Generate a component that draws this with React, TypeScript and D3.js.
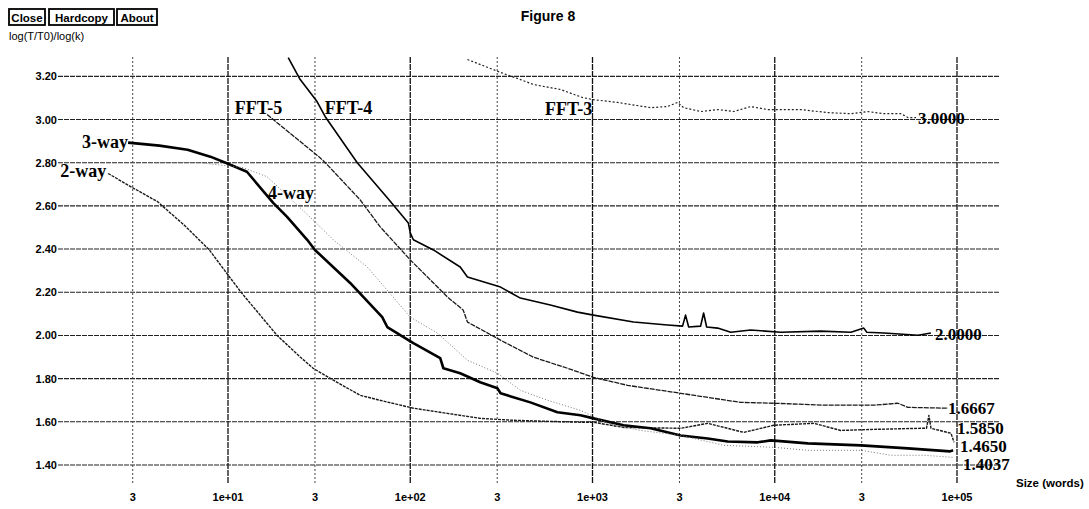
import React, { useRef, useEffect } from 'react'
import { select, scaleLog, scaleLinear, line, curveLinear } from 'd3'

// axis ticks
const yTicks = [1.4, 1.6, 1.8, 2.0, 2.2, 2.4, 2.6, 2.8, 3.0, 3.2]
const yTickLabels = ['1.40', '1.60', '1.80', '2.00', '2.20', '2.40', '2.60', '2.80', '3.00', '3.20']
const xTicks = [3, 10, 30, 100, 300, 1000, 3000, 10000, 30000, 100000]
const xTickLabels = ['3', '1e+01', '3', '1e+02', '3', '1e+03', '3', '1e+04', '3', '1e+05']

// series: [size in words, log(T/T0)/log(k)]
const twoWay: [number, number][] = [
  [2.2, 2.75], [3, 2.684], [4.1, 2.62], [5.8, 2.508], [7.9, 2.396], [10, 2.28], [11.9, 2.196],
  [18.6, 2.0], [24.9, 1.9], [29.3, 1.848], [39.7, 1.783], [53, 1.723], [68, 1.7], [104, 1.663],
  [160, 1.639], [242, 1.616], [368, 1.607], [860, 1.598], [1010, 1.598], [1480, 1.574],
  [3050, 1.57], [4290, 1.593], [6760, 1.551], [9880, 1.584], [16400, 1.593], [23000, 1.56],
  [35000, 1.565], [63400, 1.57], [68000, 1.57], [70100, 1.63], [72000, 1.57], [92700, 1.547],
  [96400, 1.505],
]
const threeWay: [number, number][] = [
  [2.83, 2.893], [4.2, 2.879], [6.0, 2.86], [8.0, 2.828], [10, 2.795], [12.7, 2.758],
  [17.7, 2.614], [21.1, 2.549], [27.2, 2.443], [30, 2.396], [46.8, 2.243], [70.2, 2.085],
  [74.8, 2.039], [104, 1.964], [146, 1.895], [152, 1.848], [188, 1.825], [242, 1.783],
  [301, 1.755], [313, 1.732], [456, 1.69], [642, 1.644], [859, 1.63], [1012, 1.616],
  [1479, 1.584], [2084, 1.57], [3048, 1.537], [4285, 1.523], [5520, 1.509], [8070, 1.505],
  [9510, 1.514], [15200, 1.5], [29700, 1.491], [53800, 1.477], [91600, 1.463], [95200, 1.468],
]
const fourWay: [number, number][] = [
  [4, 2.8], [7, 2.8], [12.1, 2.777], [16.4, 2.735], [23.9, 2.605], [29.3, 2.535], [37.8, 2.443],
  [58.1, 2.317], [100, 2.085], [141, 2.011], [206, 1.885], [301, 1.825], [402, 1.746],
  [566, 1.7], [859, 1.653], [1208, 1.593], [1835, 1.56], [3048, 1.537], [5250, 1.491],
  [9880, 1.482], [15200, 1.468], [29700, 1.468], [43400, 1.445], [65900, 1.445], [96400, 1.435],
]
const fft5: [number, number][] = [
  [16.4, 3.023], [32, 2.823], [35, 2.791], [53.1, 2.628], [68.4, 2.503], [100, 2.35],
  [160, 2.178], [195, 2.118], [206, 2.062], [313, 1.978], [475, 1.899], [729, 1.848],
  [1012, 1.806], [1556, 1.769], [3048, 1.732], [6500, 1.69], [9880, 1.686], [18600, 1.677],
  [35000, 1.677], [47400, 1.686], [53800, 1.667], [89300, 1.663],
]
const fft4: [number, number][] = [
  [21.4, 3.287], [24.9, 3.185], [30.8, 3.083], [34.1, 3.014], [51.2, 2.8], [74.8, 2.638],
  [97.6, 2.521], [100, 2.475], [104, 2.443], [134, 2.396], [188, 2.317], [206, 2.271],
  [313, 2.224], [402, 2.173], [587, 2.141], [827, 2.108], [1012, 2.094], [1680, 2.062],
  [2580, 2.048], [3120, 2.043], [3240, 2.094], [3370, 2.039], [3920, 2.043], [4070, 2.104],
  [4230, 2.039], [4860, 2.034], [5730, 2.015], [7380, 2.025], [10800, 2.015], [17900, 2.02],
  [26200, 2.015], [30800, 2.034], [32000, 2.015], [39700, 2.011], [61100, 2.001], [71900, 2.011],
]
const fft3: [number, number][] = [
  [206, 3.278], [313, 3.218], [402, 3.185], [475, 3.162], [667, 3.139], [881, 3.102],
  [1012, 3.092], [1371, 3.079], [2084, 3.055], [2580, 3.06], [2930, 3.079], [3162, 3.055],
  [3920, 3.037], [4860, 3.046], [5960, 3.037], [7380, 3.06], [9160, 3.046], [11200, 3.046],
  [13900, 3.046], [19500, 3.032], [26200, 3.027], [32400, 3.037], [39700, 3.027],
  [49200, 3.027], [53800, 3.009], [59600, 3.009],
]

// curve names and the text written at each curve's end
const curveNames = ['2-way', '3-way', '4-way', 'FFT-5', 'FFT-4', 'FFT-3']
const endLabels = ['1.5850', '1.4650', '1.4037', '1.6667', '2.0000', '3.0000']

const series = [
  { data: twoWay, stroke: '#1a1a1a', width: 1.4, dash: '3,1' },
  { data: threeWay, stroke: '#000', width: 2.6, dash: null },
  { data: fourWay, stroke: '#777', width: 1, dash: '1,2' },
  { data: fft5, stroke: '#1a1a1a', width: 1.3, dash: '5,1' },
  { data: fft4, stroke: '#000', width: 1.6, dash: null },
  { data: fft3, stroke: '#222', width: 1.2, dash: '2,2' },
]

// where the names / end values sit, in data units (left edge, baseline)
const nameAnchors: [number, number][] = [[1.2, 2.734], [1.58, 2.868], [16.6, 2.632], [10.9, 3.025], [34, 3.025], [548, 3.021]]
const endAnchors: [number, number][] = [[100000, 1.545], [103900, 1.462], [108000, 1.379], [89300, 1.637], [75700, 1.979], [61100, 2.979]]

const buttons = ['Close', 'Hardcopy', 'About']

const W = 1089
const H = 509

const App = () => {
  const svgRef = useRef<SVGSVGElement>(null)

  useEffect(() => {
    document.body.style.margin = '0'
    const svg = select(svgRef.current)
    svg.selectAll('*').remove()

    const x = scaleLog().domain([10, 100000]).range([228, 957])
    const y = scaleLinear().domain([1.4, 2.8]).range([465, 162.7])
    const left = 58, right = 999, top = 57, bottom = 483

    svg.append('rect').attr('width', W).attr('height', H).attr('fill', '#fff')

    // buttons
    const btnX = [9, 49, 117]
    const btnW = [36, 65, 40]
    const bg = svg.append('g')
    buttons.forEach((b, i) => {
      bg.append('rect').attr('x', btnX[i]).attr('y', 9).attr('width', btnW[i]).attr('height', 16)
        .attr('fill', 'none').attr('stroke', '#000').attr('stroke-width', 1.8)
      bg.append('text').attr('x', btnX[i] + btnW[i] / 2).attr('y', 21.5).attr('text-anchor', 'middle')
        .attr('font-family', 'Liberation Sans, Arial, sans-serif').attr('font-weight', 'bold')
        .attr('font-size', 11.5).text(b)
    })

    svg.append('text').attr('x', 9).attr('y', 40).attr('font-family', 'Liberation Sans, Arial, sans-serif')
      .attr('font-size', 11).text('log(T/T0)/log(k)')

    svg.append('text').attr('x', 548).attr('y', 21).attr('text-anchor', 'middle')
      .attr('font-family', 'Liberation Sans, Arial, sans-serif').attr('font-weight', 'bold')
      .attr('font-size', 14).text('Figure 8')

    // grid
    svg.selectAll('.hgrid').data(yTicks).join('line').attr('class', 'hgrid')
      .attr('x1', left).attr('x2', right).attr('y1', d => y(d)).attr('y2', d => y(d))
      .attr('stroke', '#222').attr('stroke-width', 1.1).attr('stroke-dasharray', '5,1')

    svg.selectAll('.vgrid').data(xTicks).join('line').attr('class', 'vgrid')
      .attr('x1', d => x(d)).attr('x2', d => x(d)).attr('y1', top).attr('y2', bottom)
      .attr('stroke', (d, i) => i % 2 ? '#111' : '#444')
      .attr('stroke-width', (d, i) => i % 2 ? 1.3 : 1)
      .attr('stroke-dasharray', (d, i) => i % 2 ? '6,1' : '2,2')

    // tick labels
    svg.selectAll('.ylab').data(yTicks).join('text').attr('class', 'ylab')
      .attr('x', 57).attr('y', d => y(d) + 4).attr('text-anchor', 'end')
      .attr('font-family', 'Liberation Sans, Arial, sans-serif').attr('font-weight', 'bold')
      .attr('font-size', 11).text((d, i) => yTickLabels[i])

    svg.selectAll('.xlab').data(xTicks).join('text').attr('class', 'xlab')
      .attr('x', d => x(d)).attr('y', 501).attr('text-anchor', 'middle')
      .attr('font-family', 'Liberation Sans, Arial, sans-serif').attr('font-weight', 'bold')
      .attr('font-size', 11).text((d, i) => xTickLabels[i])

    svg.append('text').attr('x', 1016).attr('y', 487)
      .attr('font-family', 'Liberation Sans, Arial, sans-serif').attr('font-weight', 'bold')
      .attr('font-size', 11.5).text('Size (words)')

    // curves
    svg.append('clipPath').attr('id', 'plotclip').append('rect')
      .attr('x', left).attr('y', top).attr('width', right - left).attr('height', bottom - top)

    const path = line<[number, number]>().x(d => x(d[0])).y(d => y(d[1])).curve(curveLinear)

    svg.append('g').attr('clip-path', 'url(#plotclip)')
      .selectAll('.curve').data(series).join('path').attr('class', 'curve')
      .attr('d', s => path(s.data))
      .attr('fill', 'none')
      .attr('stroke', s => s.stroke)
      .attr('stroke-width', s => s.width)
      .attr('stroke-dasharray', s => s.dash)
      .attr('stroke-linejoin', 'round')

    // curve names
    svg.selectAll('.cname').data(curveNames).join('text').attr('class', 'cname')
      .attr('x', (d, i) => x(nameAnchors[i][0])).attr('y', (d, i) => y(nameAnchors[i][1]))
      .attr('font-family', 'Liberation Serif, Times New Roman, serif').attr('font-weight', 'bold')
      .attr('font-size', 18).text(d => d)

    // end values, stacked tightly as in the original
    svg.selectAll('.elab').data(endLabels).join('text').attr('class', 'elab')
      .attr('x', (d, i) => x(endAnchors[i][0])).attr('y', (d, i) => y(endAnchors[i][1]))
      .attr('font-family', 'Liberation Serif, Times New Roman, serif').attr('font-weight', 'bold')
      .attr('font-size', 17).text(d => d)
  }, [])

  return (
    <svg ref={svgRef} width={W} height={H} style={{ display: 'block' }}></svg>
  )
}

export default App
